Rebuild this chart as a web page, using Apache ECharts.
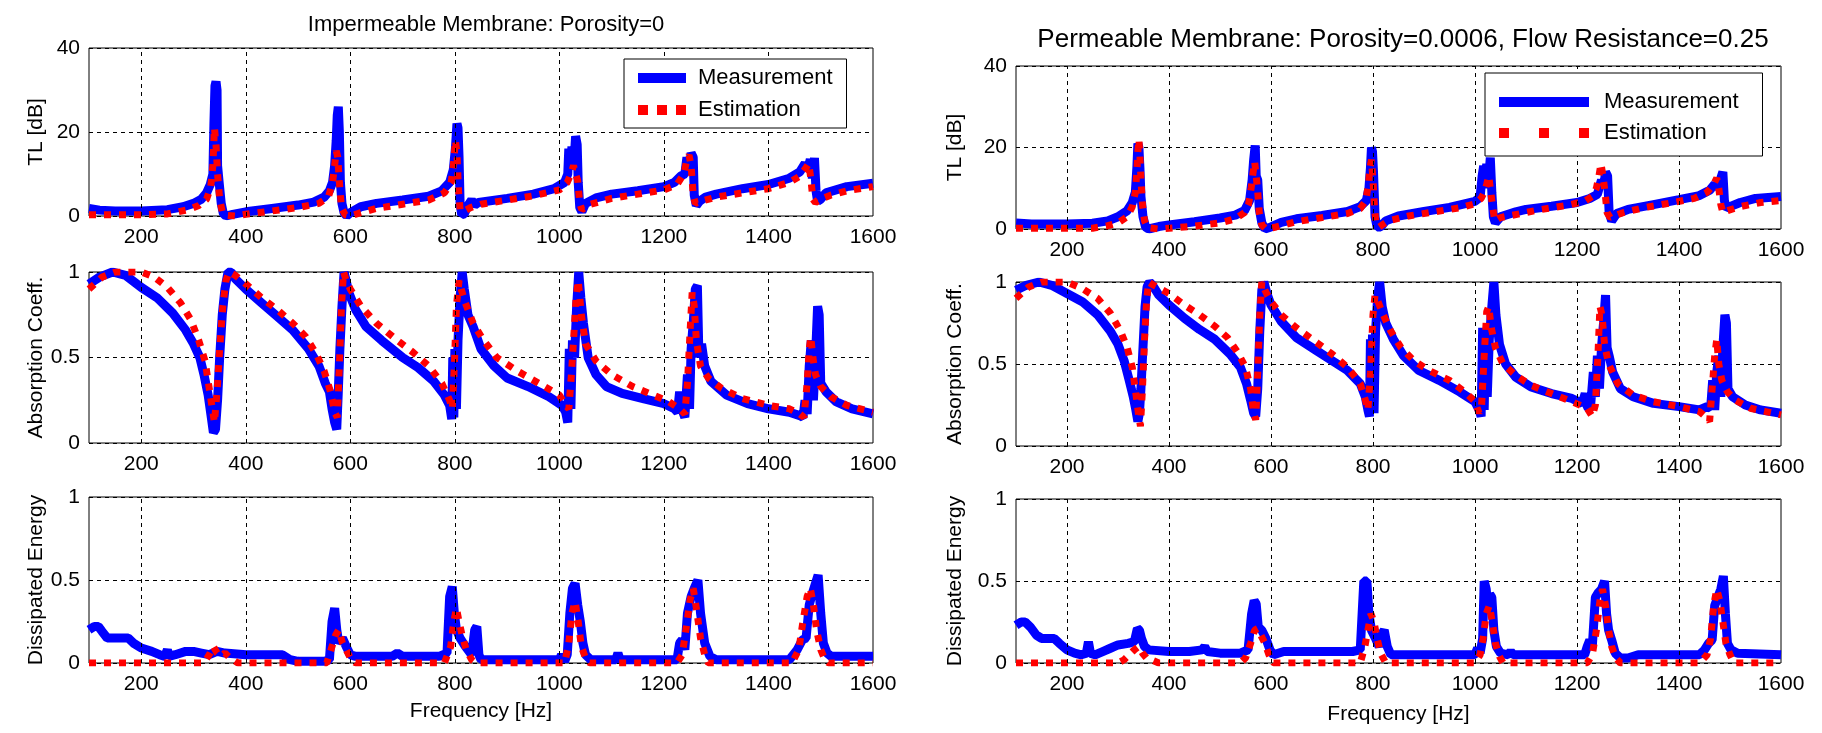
<!DOCTYPE html>
<html>
<head>
<meta charset="utf-8">
<script src="https://cdn.jsdelivr.net/npm/echarts@6/dist/echarts.min.js"></script>
<style>
  html, body { margin: 0; padding: 0; background: #fff; }
  #chart { width: 1822px; height: 733px; }
</style>
</head>
<body>
<div id="chart"></div>
<script>
// Frequency grid lines and tick values [Hz]
const freqGrid = [200, 400, 600, 800, 1000, 1200, 1400];
const freqMin = 100;
const freqMax = 1600;

// Impermeable membrane (porosity = 0)
const tlImpMeas = [[100,1.8],[120,1.4],[150,1.2],[200,1.2],[250,1.5],[280,2.2],[300,3],[315,4],[325,5.5],[332,7.5],[337,10],[339,22],[341,31],[343,32],[345,30],[346,12],[349,8],[353,3],[357,0.6],[362,0],[375,0.4],[400,1],[450,1.8],[500,2.6],[530,3.3],[550,4.5],[560,6],[566,8],[570,12],[573,18],[575,24],[577,26],[579,20],[581,8],[584,3],[588,0.8],[593,0],[600,0.8],[620,2.2],[650,3],[700,3.8],[750,4.7],[775,6],[790,8],[797,11],[801,16],[804,22],[806,21],[808,14],[810,3],[813,0.3],[818,0.5],[825,2.5],[832,3.8],[838,2.6],[845,3.2],[900,4.2],[950,5.2],[990,6.5],[1010,8],[1016,10],[1018,16],[1021,12],[1024,16.5],[1027,11],[1031,19],[1034,17],[1036,8],[1039,2],[1043,1],[1050,3],[1070,4.3],[1100,5.2],[1150,6],[1200,7],[1220,8],[1232,9.5],[1240,10],[1244,14],[1248,10.5],[1252,15],[1256,14],[1258,5],[1262,2.5],[1268,3.5],[1280,4.5],[1300,5.2],[1350,6.5],[1400,7.5],[1440,9],[1460,10.5],[1470,12.5],[1475,11],[1480,13.5],[1484,9],[1488,13.8],[1491,6],[1494,3.5],[1500,4],[1510,5.5],[1550,7],[1600,7.8]];
const tlImpEst = [[100,0.3],[200,0.3],[250,0.5],[290,1.5],[310,2.5],[325,4],[333,7],[337,12],[340,21],[343,17],[346,10],[350,4],[355,1],[360,0.2],[380,0],[400,0.4],[450,1.2],[500,2],[540,3],[558,4.5],[566,8],[570,12],[573,15.5],[576,14],[579,8],[583,2],[590,0.3],[600,0],[620,0.8],[650,1.8],[700,2.8],[750,3.8],[780,5.5],[793,8],[798,13],[801,18],[804,15],[807,6],[810,1.5],[815,1],[830,2],[850,2.8],[900,3.8],[950,4.8],[1000,6.2],[1015,8],[1022,10],[1027,12],[1031,10],[1035,8.5],[1039,3],[1043,1.5],[1060,2.8],[1100,4.2],[1150,5.2],[1200,6.2],[1225,7.5],[1238,10],[1244,13.5],[1248,14.5],[1252,12],[1256,5],[1260,3],[1270,3.5],[1300,4.5],[1350,5.5],[1400,6.5],[1440,8],[1460,9.5],[1472,11.5],[1477,12.5],[1481,9],[1485,4],[1490,3.2],[1500,4],[1520,5],[1550,6],[1600,7]];
const absImpMeas = [[100,0.93],[120,0.97],[145,1.0],[170,0.98],[200,0.91],[230,0.85],[260,0.76],[285,0.66],[300,0.58],[312,0.5],[320,0.4],[328,0.28],[334,0.15],[338,0.06],[342,0.08],[346,0.25],[350,0.5],[355,0.75],[360,0.9],[366,1.0],[372,1.0],[380,0.96],[400,0.9],[430,0.82],[460,0.74],[490,0.66],[520,0.55],[540,0.45],[552,0.35],[560,0.3],[565,0.2],[570,0.12],[574,0.08],[577,0.3],[580,0.55],[584,0.8],[588,1.0],[592,0.95],[597,0.88],[610,0.78],[630,0.68],[660,0.6],[700,0.5],[730,0.44],[760,0.36],[780,0.28],[790,0.22],[794,0.14],[796,0.5],[798,0.15],[800,0.55],[803,0.2],[806,0.6],[810,0.85],[814,1.0],[818,0.9],[825,0.75],[835,0.68],[850,0.55],[875,0.45],[900,0.38],[940,0.33],[980,0.27],[1005,0.22],[1012,0.18],[1016,0.12],[1019,0.55],[1022,0.2],[1025,0.6],[1029,0.5],[1033,0.8],[1037,1.0],[1041,0.85],[1046,0.7],[1055,0.5],[1070,0.4],[1090,0.33],[1120,0.29],[1160,0.26],[1200,0.23],[1220,0.2],[1226,0.18],[1230,0.3],[1234,0.2],[1240,0.15],[1245,0.4],[1249,0.2],[1252,0.55],[1256,0.7],[1260,0.9],[1264,0.92],[1267,0.5],[1272,0.58],[1278,0.45],[1290,0.36],[1320,0.28],[1360,0.23],[1400,0.2],[1440,0.18],[1460,0.16],[1466,0.15],[1470,0.25],[1474,0.17],[1478,0.45],[1482,0.6],[1486,0.25],[1490,0.5],[1494,0.8],[1497,0.75],[1500,0.35],[1510,0.3],[1530,0.24],[1560,0.2],[1600,0.17]];
const absImpEst = [[100,0.9],[125,0.97],[150,1.0],[200,1.0],[225,0.97],[250,0.91],[275,0.82],[295,0.72],[310,0.6],[322,0.48],[330,0.32],[336,0.2],[340,0.12],[345,0.3],[350,0.55],[356,0.8],[362,0.95],[368,1.0],[380,0.98],[400,0.93],[430,0.85],[460,0.78],[490,0.7],[515,0.62],[535,0.52],[550,0.42],[562,0.3],[570,0.18],[575,0.15],[579,0.45],[583,0.8],[587,1.0],[592,0.95],[600,0.9],[620,0.8],[650,0.7],[690,0.6],[720,0.53],[750,0.45],[775,0.35],[790,0.25],[795,0.2],[799,0.45],[803,0.8],[808,0.95],[812,0.9],[820,0.82],[835,0.7],[855,0.6],[880,0.5],[920,0.42],[960,0.35],[1000,0.28],[1012,0.22],[1018,0.2],[1023,0.4],[1028,0.65],[1032,0.85],[1036,0.95],[1042,0.75],[1050,0.58],[1070,0.48],[1100,0.4],[1140,0.33],[1180,0.28],[1210,0.24],[1230,0.2],[1240,0.17],[1245,0.35],[1250,0.65],[1254,0.88],[1258,0.8],[1262,0.6],[1270,0.45],[1285,0.38],[1310,0.32],[1350,0.26],[1400,0.22],[1440,0.2],[1460,0.17],[1468,0.15],[1474,0.35],[1478,0.55],[1481,0.62],[1485,0.5],[1490,0.4],[1500,0.33],[1520,0.27],[1550,0.22],[1600,0.18]];
const disImpMeas = [[100,0.2],[110,0.22],[118,0.22],[125,0.19],[135,0.15],[150,0.15],[175,0.15],[185,0.12],[200,0.09],[220,0.07],[235,0.05],[245,0.04],[250,0.08],[253,0.04],[265,0.05],[285,0.07],[300,0.07],[315,0.06],[330,0.05],[345,0.07],[360,0.06],[400,0.05],[440,0.05],[470,0.05],[485,0.02],[500,0.01],[550,0.01],[560,0.02],[565,0.25],[570,0.33],[574,0.2],[578,0.12],[585,0.15],[592,0.1],[600,0.05],[610,0.04],[680,0.04],[690,0.06],[700,0.04],[770,0.04],[785,0.06],[790,0.4],[795,0.46],[799,0.3],[803,0.2],[810,0.15],[820,0.1],[832,0.05],[838,0.2],[842,0.22],[846,0.05],[850,0.02],[1000,0.02],[1004,0.05],[1010,0.01],[1015,0.05],[1020,0.3],[1025,0.45],[1030,0.48],[1035,0.35],[1040,0.25],[1045,0.12],[1050,0.05],[1060,0.02],[1108,0.02],[1112,0.06],[1116,0.02],[1225,0.02],[1230,0.12],[1235,0.14],[1240,0.08],[1245,0.3],[1252,0.4],[1258,0.45],[1265,0.5],[1270,0.3],[1278,0.12],[1288,0.04],[1300,0.02],[1440,0.02],[1455,0.08],[1465,0.14],[1472,0.15],[1478,0.35],[1484,0.42],[1490,0.48],[1495,0.53],[1500,0.3],[1505,0.12],[1512,0.06],[1520,0.04],[1600,0.04]];
const disImpEst = [[100,0],[320,0],[330,0.05],[338,0.1],[345,0.06],[352,0.04],[360,0.06],[370,0.03],[385,0],[555,0],[565,0.1],[572,0.17],[578,0.2],[585,0.12],[592,0.08],[600,0.03],[610,0],[780,0],[792,0.1],[798,0.25],[803,0.33],[808,0.25],[815,0.15],[822,0.08],[832,0.02],[840,0],[1010,0],[1018,0.12],[1024,0.3],[1030,0.37],[1036,0.25],[1042,0.1],[1050,0.03],[1058,0],[1225,0],[1235,0.05],[1242,0.2],[1250,0.38],[1256,0.45],[1262,0.33],[1270,0.15],[1278,0.05],[1285,0],[1445,0],[1458,0.08],[1466,0.25],[1474,0.4],[1480,0.45],[1486,0.35],[1492,0.2],[1500,0.08],[1508,0.02],[1515,0],[1600,0]];

// Permeable membrane (porosity = 0.0006, flow resistance = 0.25)
const tlPermMeas = [[100,1.5],[130,1.2],[200,1.2],[250,1.4],[280,2],[300,3],[318,4.5],[328,6.5],[334,9],[337,15],[339,21],[341,20],[343,15],[345,8],[349,3],[354,0.5],[360,0],[380,0.6],[400,1],[450,1.8],[500,2.7],[530,3.4],[548,4.5],[558,7],[563,12],[566,17],[569,20.5],[571,13],[574,12],[577,5],[582,1.5],[588,0],[600,0.5],[620,1.6],[650,2.5],[700,3.3],[750,4.3],[775,5.5],[787,7],[792,10],[795,15],[797,20],[799,19],[801,14],[804,3],[808,0.5],[815,0.5],[825,2],[850,3.2],[900,4.3],[950,5.3],[1000,6.8],[1010,7.8],[1014,13],[1017,15.5],[1020,10],[1023,16],[1026,11],[1030,17.5],[1033,9],[1036,3],[1040,1.5],[1050,3],[1080,4.2],[1100,4.8],[1150,5.6],[1200,6.5],[1225,7.5],[1240,8.5],[1248,12],[1252,10],[1256,14],[1260,13],[1263,4],[1268,2],[1278,3.8],[1300,4.8],[1350,6],[1400,7.2],[1440,8.2],[1460,9.5],[1470,11],[1476,10],[1482,12.5],[1486,14],[1489,7],[1493,5],[1500,5.5],[1520,6.5],[1550,7.5],[1600,8]];
const tlPermEst = [[100,0.2],[250,0.2],[280,0.8],[300,1.5],[318,3],[328,5.5],[334,9],[337,14],[339,19],[341,22],[343,18],[345,12],[348,6],[352,2],[358,0.3],[380,0],[400,0.2],[450,0.7],[500,1.5],[530,2.5],[548,4],[556,6],[561,10],[565,14],[568,16.5],[571,13],[574,9],[577,4],[582,1],[590,0],[610,0.5],[650,1.8],[700,2.8],[750,3.8],[775,5],[786,7],[791,11],[794,15],[797,17],[800,12],[803,5],[806,1.5],[812,0.5],[830,2],[870,3.2],[920,4.2],[970,5.2],[1000,6.2],[1012,7.5],[1018,9],[1023,11],[1027,13],[1031,9],[1035,5],[1039,2],[1050,2.8],[1090,3.8],[1130,4.8],[1180,5.8],[1215,6.8],[1230,8],[1238,10],[1243,13],[1247,16],[1251,13],[1255,9],[1259,4],[1265,2.8],[1290,4],[1330,5.2],[1380,6.3],[1430,7.5],[1455,9],[1468,11],[1474,12.5],[1478,10],[1482,6],[1486,4],[1495,4.5],[1520,5.5],[1560,6.5],[1600,7]];
const absPermMeas = [[100,0.95],[120,0.98],[145,1.0],[170,0.98],[200,0.93],[230,0.88],[260,0.8],[285,0.7],[300,0.62],[312,0.52],[322,0.4],[330,0.3],[335,0.22],[339,0.15],[342,0.2],[345,0.35],[349,0.6],[353,0.85],[357,0.97],[362,1.0],[368,0.98],[380,0.92],[400,0.86],[430,0.78],[460,0.71],[490,0.65],[520,0.56],[540,0.48],[552,0.38],[560,0.28],[566,0.2],[570,0.18],[574,0.35],[578,0.7],[582,0.95],[586,1.0],[592,0.93],[600,0.86],[620,0.76],[650,0.66],[690,0.58],[720,0.52],[750,0.46],[775,0.38],[785,0.3],[790,0.22],[793,0.18],[795,0.65],[797,0.2],[799,0.68],[802,0.2],[805,0.7],[809,0.9],[813,1.0],[818,0.85],[825,0.75],[840,0.65],[860,0.55],[890,0.46],[930,0.4],[970,0.33],[1000,0.27],[1008,0.22],[1012,0.18],[1015,0.72],[1018,0.22],[1021,0.7],[1024,0.3],[1028,0.65],[1033,0.85],[1037,1.0],[1041,0.8],[1048,0.62],[1060,0.5],[1080,0.42],[1110,0.36],[1150,0.32],[1190,0.29],[1210,0.26],[1216,0.32],[1220,0.24],[1226,0.22],[1232,0.45],[1236,0.3],[1240,0.55],[1244,0.35],[1248,0.6],[1252,0.75],[1256,0.92],[1259,0.6],[1263,0.55],[1270,0.45],[1285,0.35],[1310,0.3],[1350,0.26],[1400,0.24],[1440,0.22],[1455,0.24],[1462,0.23],[1466,0.4],[1470,0.22],[1474,0.45],[1478,0.55],[1482,0.3],[1486,0.6],[1490,0.8],[1493,0.75],[1496,0.35],[1505,0.3],[1530,0.25],[1560,0.22],[1600,0.2]];
const absPermEst = [[100,0.9],[125,0.97],[150,1.0],[200,1.0],[230,0.96],[260,0.9],[285,0.81],[305,0.7],[318,0.6],[328,0.48],[335,0.32],[340,0.2],[344,0.12],[348,0.35],[352,0.65],[356,0.88],[360,1.0],[370,0.98],[400,0.93],[430,0.86],[460,0.8],[490,0.73],[515,0.66],[535,0.57],[550,0.48],[560,0.35],[566,0.2],[570,0.16],[574,0.45],[578,0.8],[582,1.0],[588,0.95],[600,0.88],[620,0.8],[650,0.72],[690,0.63],[720,0.56],[750,0.48],[775,0.38],[785,0.28],[790,0.22],[795,0.45],[800,0.8],[804,0.92],[810,0.88],[820,0.8],[835,0.7],[855,0.6],[880,0.52],[910,0.46],[950,0.4],[980,0.33],[1000,0.27],[1008,0.2],[1013,0.25],[1018,0.55],[1023,0.82],[1027,0.85],[1032,0.72],[1040,0.6],[1055,0.5],[1080,0.43],[1110,0.37],[1150,0.32],[1190,0.27],[1220,0.23],[1230,0.18],[1236,0.25],[1241,0.55],[1245,0.85],[1249,0.8],[1254,0.62],[1262,0.5],[1280,0.38],[1310,0.31],[1350,0.27],[1400,0.24],[1440,0.21],[1455,0.17],[1460,0.15],[1465,0.35],[1470,0.55],[1474,0.65],[1478,0.5],[1484,0.4],[1495,0.33],[1510,0.28],[1540,0.23],[1570,0.21],[1600,0.19]];
const disPermMeas = [[100,0.23],[110,0.25],[118,0.25],[128,0.22],[140,0.17],[150,0.15],[175,0.15],[185,0.12],[200,0.08],[215,0.06],[228,0.05],[238,0.06],[242,0.13],[246,0.06],[255,0.05],[270,0.07],[285,0.09],[300,0.11],[320,0.12],[332,0.13],[338,0.21],[342,0.2],[346,0.15],[352,0.1],[360,0.08],[400,0.07],[440,0.07],[465,0.08],[470,0.1],[475,0.07],[500,0.06],[540,0.06],[555,0.08],[562,0.3],[567,0.38],[571,0.36],[575,0.22],[582,0.2],[590,0.15],[598,0.08],[605,0.05],[625,0.07],[700,0.07],[760,0.07],[775,0.08],[782,0.5],[788,0.5],[792,0.3],[797,0.2],[805,0.15],[812,0.1],[818,0.18],[822,0.2],[828,0.1],[835,0.05],[1000,0.05],[1005,0.09],[1010,0.06],[1015,0.15],[1018,0.5],[1022,0.45],[1026,0.3],[1029,0.42],[1033,0.4],[1037,0.2],[1042,0.1],[1050,0.06],[1065,0.05],[1070,0.07],[1075,0.05],[1215,0.05],[1220,0.1],[1225,0.14],[1230,0.1],[1236,0.4],[1242,0.43],[1248,0.45],[1254,0.5],[1258,0.3],[1262,0.2],[1268,0.14],[1275,0.06],[1285,0.03],[1300,0.03],[1320,0.05],[1440,0.05],[1450,0.08],[1458,0.12],[1465,0.14],[1470,0.35],[1476,0.4],[1482,0.45],[1487,0.53],[1491,0.3],[1495,0.12],[1502,0.08],[1515,0.06],[1600,0.05]];
const disPermEst = [[100,0],[300,0],[312,0.02],[322,0.05],[332,0.08],[340,0.1],[348,0.06],[356,0.03],[365,0.02],[380,0],[540,0],[550,0.03],[560,0.12],[568,0.2],[574,0.21],[580,0.17],[588,0.12],[596,0.05],[605,0],[775,0],[784,0.1],[790,0.2],[796,0.3],[802,0.25],[808,0.15],[815,0.06],[825,0],[1000,0],[1010,0.05],[1016,0.15],[1022,0.3],[1028,0.35],[1034,0.25],[1040,0.12],[1048,0.04],[1055,0],[1220,0],[1230,0.05],[1238,0.2],[1245,0.38],[1250,0.45],[1256,0.35],[1262,0.2],[1268,0.1],[1276,0.03],[1285,0],[1440,0],[1455,0.05],[1462,0.15],[1468,0.35],[1474,0.45],[1480,0.38],[1486,0.25],[1492,0.12],[1500,0.05],[1508,0],[1600,0]];

// Panel titles, legend entries and axis names
const titles = ['Impermeable Membrane: Porosity=0', 'Permeable Membrane: Porosity=0.0006, Flow Resistance=0.25'];
const seriesNames = ['Measurement', 'Estimation'];
const yNames = ['TL [dB]', 'Absorption Coeff.', 'Dissipated Energy'];
const yRanges = [[0, 40, 20], [0, 1, 0.5], [0, 1, 0.5]];
const xName = 'Frequency [Hz]';

const FONT = "'Liberation Sans', Arial, Helvetica, sans-serif";
const BLUE = '#0000ff';
const RED = '#ff0000';

// Layout of the six axes boxes: [left, top, width, height]
const layout = [
  { box: [89, 48, 784, 168], data: [tlImpMeas, tlImpEst], row: 0, col: 0 },
  { box: [89, 272, 784, 171], data: [absImpMeas, absImpEst], row: 1, col: 0 },
  { box: [89, 497, 784, 166], data: [disImpMeas, disImpEst], row: 2, col: 0 },
  { box: [1016, 66, 765, 163], data: [tlPermMeas, tlPermEst], row: 0, col: 1 },
  { box: [1016, 282, 765, 164], data: [absPermMeas, absPermEst], row: 1, col: 1 },
  { box: [1016, 499, 765, 164], data: [disPermMeas, disPermEst], row: 2, col: 1 }
];

const grid = [], xAxis = [], yAxis = [], series = [];

layout.forEach((p, i) => {
  const [l, t, w, h] = p.box;
  grid.push({
    left: l, top: t, width: w, height: h,
    show: true, borderColor: '#000', borderWidth: 1, backgroundColor: '#fff'
  });
  xAxis.push({
    type: 'value', gridIndex: i, min: freqMin, max: freqMax, interval: 100,
    axisLine: { show: false },
    axisTick: { show: false },
    splitLine: { show: false },
    axisLabel: {
      color: '#000', fontFamily: FONT, fontSize: 21, margin: 11,
      formatter: v => (v % 200 === 0 ? String(v) : '')
    },
    name: p.row === 2 ? xName : '',
    nameLocation: 'middle',
    nameGap: p.col === 0 ? 38 : 41,
    nameTextStyle: { color: '#000', fontFamily: FONT, fontSize: 21 }
  });
  const [ymin, ymax, yint] = yRanges[p.row];
  yAxis.push({
    type: 'value', gridIndex: i, min: ymin, max: ymax, interval: yint,
    axisLine: { show: false },
    axisTick: { show: false },
    axisLabel: { color: '#000', fontFamily: FONT, fontSize: 21, margin: 9 },
    splitLine: { show: true, lineStyle: { color: '#000', width: 1, type: [4, 4] } },
    name: yNames[p.row],
    nameLocation: 'middle',
    nameRotate: 90,
    nameGap: p.col === 0 ? 42 : 50,
    nameTextStyle: { color: '#000', fontFamily: FONT, fontSize: 21 }
  });
  // vertical dashed grid at every 200 Hz
  series.push({
    type: 'line', xAxisIndex: i, yAxisIndex: i, data: [], silent: true, z: 1,
    markLine: {
      silent: true, symbol: ['none', 'none'], label: { show: false },
      lineStyle: { color: '#000', width: 1, type: [4, 4] },
      data: freqGrid.map(f => ({ xAxis: f }))
    }
  });
  series.push({
    type: 'line', name: seriesNames[0], xAxisIndex: i, yAxisIndex: i,
    data: p.data[0], showSymbol: false, symbol: 'none', z: 2,
    itemStyle: { color: BLUE },
    lineStyle: { color: BLUE, width: 9, join: 'bevel' }
  });
  series.push({
    type: 'line', name: seriesNames[1], xAxisIndex: i, yAxisIndex: i,
    data: p.data[1], showSymbol: false, symbol: 'none', z: 3,
    itemStyle: { color: RED },
    lineStyle: { color: RED, width: 7, type: [7, 8], cap: 'butt', join: 'bevel' }
  });
});

// Legend swatches: a solid bar and three square dots
const legendItems = (dotPath) => [
  { name: seriesNames[0], icon: 'rect', itemStyle: { color: BLUE } },
  { name: seriesNames[1], icon: dotPath, itemStyle: { color: RED } }
];
const legendBase = {
  orient: 'vertical', selectedMode: false,
  backgroundColor: '#fff', borderColor: '#000', borderWidth: 1, borderRadius: 0,
  itemHeight: 10, z: 10,
  textStyle: { color: '#000', fontFamily: FONT, fontSize: 22 }
};

const option = {
  animation: false,
  backgroundColor: '#fff',
  title: [
    { text: titles[0], left: 481, top: 9, textAlign: 'center',
      textStyle: { color: '#000', fontFamily: FONT, fontSize: 22, fontWeight: 'normal' } },
    { text: titles[1], left: 1398, top: 22, textAlign: 'center',
      textStyle: { color: '#000', fontFamily: FONT, fontSize: 26, fontWeight: 'normal' } }
  ],
  legend: [
    Object.assign({}, legendBase, {
      data: legendItems('path://M0,0h10v10h-10z M19,0h10v10h-10z M38,0h10v10h-10z'),
      left: 624, top: 59, itemWidth: 48, itemGap: 10, padding: [8, 14, 7, 14],
      textStyle: Object.assign({}, legendBase.textStyle, { padding: [0, 0, 0, 7] })
    }),
    Object.assign({}, legendBase, {
      data: legendItems('path://M0,0h10v10h-10z M40,0h10v10h-10z M80,0h10v10h-10z'),
      left: 1485, top: 73, itemWidth: 90, itemGap: 9, padding: [18, 24, 12, 14],
      textStyle: Object.assign({}, legendBase.textStyle, { padding: [0, 0, 0, 10] })
    })
  ],
  grid, xAxis, yAxis, series
};

const chart = echarts.init(document.getElementById('chart'), null, { renderer: 'canvas' });
chart.setOption(option);
</script>
</body>
</html>
